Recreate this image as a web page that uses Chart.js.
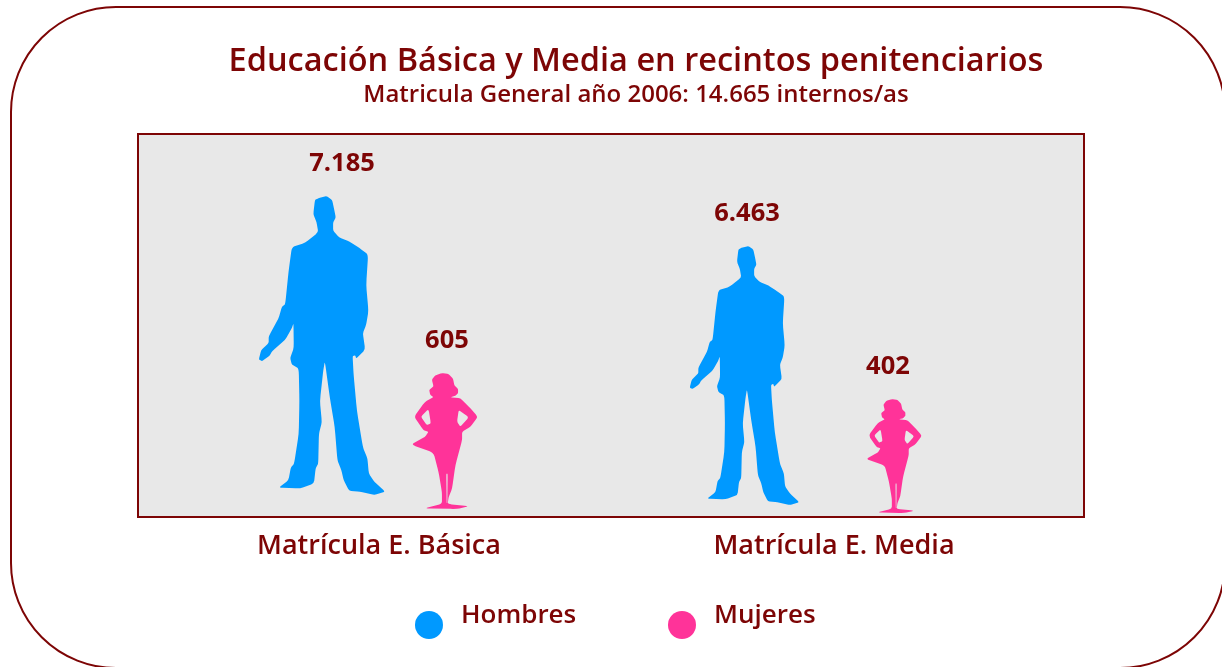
<!DOCTYPE html>
<html><head><meta charset="utf-8">
<style>html,body{margin:0;padding:0;background:#fff;overflow:hidden}#w{width:1222px;height:667px;position:relative}</style>
<script src="https://cdn.jsdelivr.net/npm/chart.js@4/dist/chart.umd.min.js"></script>
</head><body><div id="w"><canvas id="c"></canvas></div>
<script>
const categories = ['Matrícula E. Básica', 'Matrícula E. Media'];
const hombres = [7185, 6463];
const mujeres = [605, 402];
const seriesNames = ['Hombres', 'Mujeres'];
const titleText = 'Educación Básica y Media en recintos penitenciarios';
const subtitleText = 'Matricula General año 2006: 14.665 internos/as';

const DARK = '#7d0505', FONT = '"Open Sans", sans-serif';
const MAN = [[[195,42],[205,37],[230,30],[247,42],[253,70],[258,95],[250,110],[250,135],[268,155],[300,168],[330,188],[356,207],[350,300],[357,378],[350,420],[340,445],[347,495],[320,522],[317,512],[309,515],[312,570],[322,680],[340,790],[354,825],[358,870],[375,895],[408,925],[375,935],[330,925],[298,922],[282,890],[275,860],[263,830],[255,730],[240,640],[225,530],[220,560],[210,650],[216,715],[207,750],[205,840],[197,855],[192,900],[150,915],[85,913],[115,890],[122,852],[132,840],[146,750],[148,650],[146,552],[125,540],[120,520],[131,490],[130,415],[125,430],[105,465],[65,500],[58,513],[35,530],[25,525],[32,497],[55,475],[55,455],[85,400],[95,365],[105,358],[115,260],[125,185],[165,172],[205,140],[200,110],[190,85]]];
const WOMAN = [[[125,25],[145,28],[158,42],[162,62],[173,72],[173,85],[165,93],[150,97],[180,100],[205,125],[232,155],[210,185],[185,200],[185,225],[165,300],[155,370],[145,395],[142,415],[205,422],[170,430],[72,428],[125,415],[125,380],[115,320],[100,262],[33,238],[75,215],[85,200],[70,195],[42,155],[75,110],[100,97],[90,90],[87,75],[100,65],[95,45],[105,32]],
 [[62,155],[85,132],[92,175],[80,180]],[[175,135],[205,157],[180,185],[170,170]],[[138,325],[142,325],[141,412],[139,412]]];

function silhouette(ctx, shape, cx, top, bottom, color){
  const pts = shape.flat(), xs = pts.map(p=>p[0]), ys = pts.map(p=>p[1]);
  const x0=Math.min(...xs), x1=Math.max(...xs), y0=Math.min(...ys), y1=Math.max(...ys);
  const s=(bottom-top)/(y1-y0), left=cx-(x1-x0)*s/2;
  const X=p=>left+(p[0]-x0)*s, Y=p=>top+(p[1]-y0)*s, T=0.2;
  ctx.save(); ctx.fillStyle=color; ctx.beginPath();
  shape.forEach(r=>{
    const n=r.length;
    r.forEach((p,i)=>{
      const a=r[(i+n-1)%n], b=r[(i+1)%n], px=X(p), py=Y(p);
      const ax=px+(X(a)-px)*T, ay=py+(Y(a)-py)*T, bx=px+(X(b)-px)*T, by=py+(Y(b)-py)*T;
      i?ctx.lineTo(ax,ay):ctx.moveTo(ax,ay);
      ctx.quadraticCurveTo(px,py,bx,by);
    });
    ctx.closePath();
  });
  ctx.fill('evenodd'); ctx.restore();
}
const fmt = v => String(v).replace(/\B(?=(\d{3})+$)/g,'.');

const pictogram = {
  id:'pictogram',
  beforeDraw(chart){
    const {ctx,chartArea:a}=chart; ctx.save();
    ctx.fillStyle='#fff'; ctx.fillRect(0,0,chart.width,chart.height);
    ctx.strokeStyle=DARK; ctx.lineWidth=2;
    ctx.beginPath(); ctx.roundRect(11,7,1214,661,105); ctx.stroke();
    ctx.fillStyle='#e8e8e8'; ctx.beginPath();
    ctx.rect(a.left-13.5,a.top,946,a.bottom-a.top); ctx.fill(); ctx.stroke();
    ctx.restore();
  },
  beforeDatasetDraw(chart,args,o){
    const ctx=chart.ctx, i=args.index, ds=chart.data.datasets[i], a=chart.chartArea, m=chart.getDatasetMeta(i);
    m.data.forEach((el,j)=>{
      silhouette(ctx,i?WOMAN:MAN,el.x+o.dx[i][j],el.y,a.bottom-o.gap[i][j],ds.backgroundColor);
      ctx.save(); ctx.fillStyle=DARK; ctx.font='700 25.5px '+FONT; ctx.textAlign='center'; ctx.textBaseline='middle';
      ctx.fillText(fmt(ds.data[j]),el.x+o.ldx[i][j],el.y-32); ctx.restore();
    });
    return false;
  },
  afterDraw(chart){
    const ctx=chart.ctx; ctx.save(); ctx.textBaseline='middle'; ctx.font='600 26px '+FONT;
    chart.data.datasets.forEach((ds,i)=>{
      const cx=[429,682][i];
      ctx.fillStyle=ds.backgroundColor; ctx.beginPath(); ctx.arc(cx,625,14,0,Math.PI*2); ctx.fill();
      ctx.fillStyle=DARK; ctx.fillText(ds.label,cx+32,616);
    });
    ctx.restore();
  }
};

new Chart(document.getElementById('c'),{
  type:'bar',
  data:{labels:categories,datasets:[
    {label:seriesNames[0],data:hombres,backgroundColor:'#0099ff',yAxisID:'yH'},
    {label:seriesNames[1],data:mujeres,backgroundColor:'#ff3399',yAxisID:'yM'}
  ]},
  plugins:[pictogram],
  options:{
    responsive:true,maintainAspectRatio:false,animation:false,events:[],
    layout:{padding:{left:60,right:10,top:0,bottom:0}},
    datasets:{bar:{categoryPercentage:0.615,barPercentage:1,grouped:true}},
    plugins:{
      legend:{display:false},tooltip:{enabled:false},
      title:{display:true,text:titleText,color:DARK,font:{family:FONT,size:32.5,weight:'600',lineHeight:1.2},padding:{top:42,bottom:0}},
      subtitle:{display:true,text:subtitleText,color:DARK,font:{family:FONT,size:24,weight:'600',lineHeight:1.2},padding:{top:0,bottom:24.2}},
      pictogram:{dx:[[13,-19.5],[-4.5,-10]],ldx:[[33,-17],[-2,-16]],gap:[[22,12],[8,4]]}
    },
    scales:{
      x:{grid:{display:false},border:{display:false},
        ticks:{color:DARK,font:{family:FONT,size:27,weight:'600'},padding:5,maxRotation:0,autoSkip:false},
        afterFit(s){s.height=150;}},
      yH:{position:'left',min:2550,max:8080,grid:{display:false},border:{display:false},ticks:{display:false},afterFit(s){s.width=91.5;}},
      yM:{position:'right',min:-519,max:2471,grid:{display:false},border:{display:false},ticks:{display:false},afterFit(s){s.width=150.5;}}
    }
  }
});
</script></body></html>
